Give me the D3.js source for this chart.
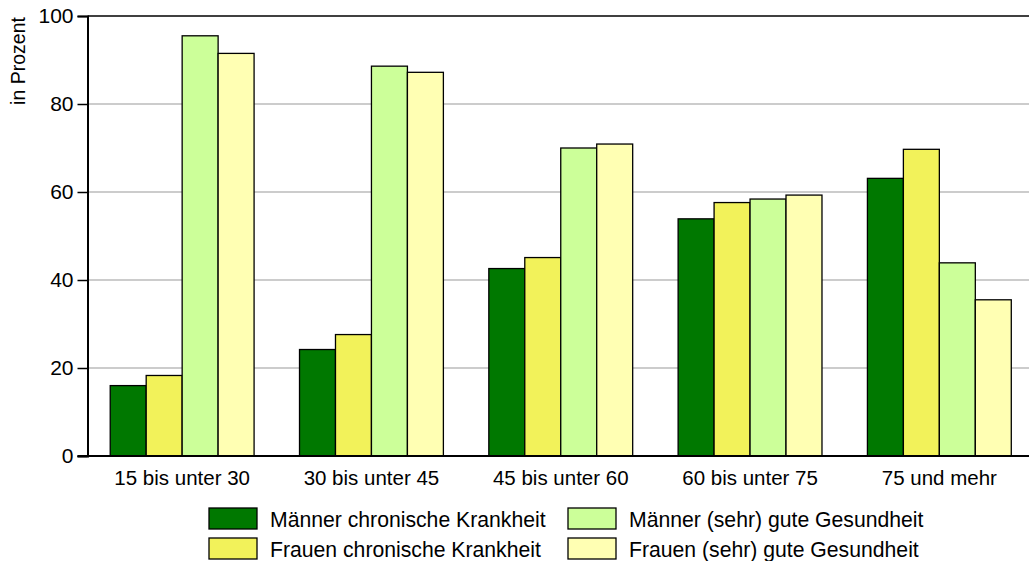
<!DOCTYPE html>
<html><head><meta charset="utf-8">
<script src="https://cdn.jsdelivr.net/npm/d3@7"></script>
<style>body{margin:0;background:#fff}svg{display:block;font-family:"Liberation Sans",Arial,sans-serif}</style>
</head><body><svg id="c" width="1029" height="561"></svg>
<script>
const categories = ["15 bis unter 30","30 bis unter 45","45 bis unter 60","60 bis unter 75","75 und mehr"];
const seriesNames = ["Männer chronische Krankheit","Frauen chronische Krankheit","Männer (sehr) gute Gesundheit","Frauen (sehr) gute Gesundheit"];
const maennerChronisch = [16.0, 24.2, 42.6, 53.9, 63.1];
const frauenChronisch = [18.3, 27.6, 45.1, 57.6, 69.7];
const maennerGut = [95.5, 88.6, 70.0, 58.4, 43.9];
const frauenGut = [91.5, 87.2, 70.9, 59.3, 35.5];
const yTicks = [0, 20, 40, 60, 80, 100];
const colors = ["#007800", "#f2f25a", "#ccff99", "#ffffb3"];

const series = [maennerChronisch, frauenChronisch, maennerGut, frauenGut];
const svg = d3.select("#c");
const L = 87.5, T = 16, B = 456, R = 1034;
const y = d3.scaleLinear().domain([0, 100]).range([B, T]);
const x0 = d3.scaleBand().domain(categories).range([L, R]).paddingInner(0.24).paddingOuter(0.12);
const x1 = d3.scaleBand().domain(d3.range(4)).range([0, x0.bandwidth()]);

// gridlines
svg.append("g").selectAll("line").data(yTicks.filter(d => d > 0 && d < 100)).join("line")
  .attr("x1", L).attr("x2", 1029).attr("y1", d => y(d)).attr("y2", d => y(d))
  .attr("stroke", "#999").attr("stroke-width", 1);
svg.append("line").attr("x1", L).attr("x2", 1029).attr("y1", y(100)).attr("y2", y(100)).attr("stroke", "#000").attr("stroke-width", 1.5);

// bars
const g = svg.append("g");
categories.forEach((c, i) => {
  series.forEach((s, j) => {
    g.append("rect")
      .attr("x", x0(c) + x1(j)).attr("width", x1.bandwidth())
      .attr("y", y(s[i])).attr("height", y(0) - y(s[i]))
      .attr("fill", colors[j]).attr("stroke", "#000").attr("stroke-width", 1.3);
  });
});

// y axis
const ya = svg.append("g").attr("transform", `translate(${L},0)`)
  .call(d3.axisLeft(y).tickValues(yTicks).tickSize(10).tickPadding(4));
ya.select(".domain").attr("stroke-width", 2);
ya.selectAll("line").attr("stroke-width", 1.5);
ya.selectAll("text").attr("font-size", 21).attr("fill", "#000").attr("font-family", "Liberation Sans, Arial, sans-serif");

// x axis
svg.append("line").attr("x1", L - 10).attr("x2", 1029).attr("y1", B).attr("y2", B).attr("stroke", "#000").attr("stroke-width", 2);
svg.append("g").selectAll("text").data(categories).join("text")
  .attr("x", d => x0(d) + x0.bandwidth() / 2).attr("y", 485)
  .attr("text-anchor", "middle").attr("font-size", 20.5).text(d => d);

// y label
svg.append("text").attr("transform", "translate(25,61) rotate(-90)")
  .attr("text-anchor", "middle").attr("font-size", 19.5).text("in Prozent");

// legend
const lx = [209, 568], ly = [508, 538];
seriesNames.forEach((n, j) => {
  const cx = lx[Math.floor(j / 2)], cy = ly[j % 2];
  svg.append("rect").attr("x", cx).attr("y", cy).attr("width", 48).attr("height", 21)
    .attr("fill", colors[j]).attr("stroke", "#000").attr("stroke-width", 1.3);
  svg.append("text").attr("x", cx + 61).attr("y", cy + 19).attr("font-size", 21.2).text(n);
});
</script></body></html>
